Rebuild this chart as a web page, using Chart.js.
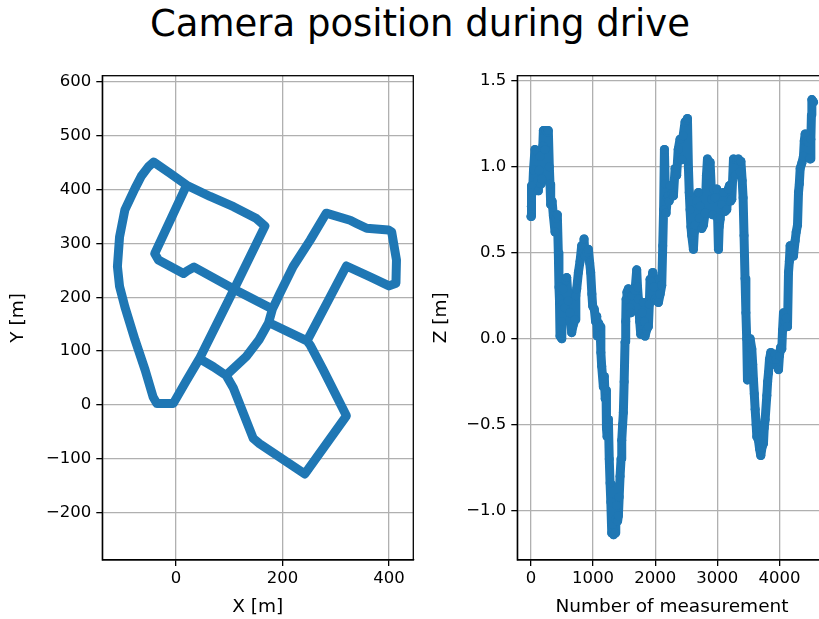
<!DOCTYPE html>
<html>
<head>
<meta charset="utf-8">
<script src="https://cdn.jsdelivr.net/npm/chart.js@4"></script>
<style>
  html, body { margin: 0; padding: 0; background: #fff; width: 819px; height: 619px; overflow: hidden; }
  #title {
    position: absolute; left: 0; top: 5px; width: 840px; text-align: center;
    font-family: "DejaVu Sans"; font-size: 37px; line-height: 37px; color: #000;
  }
  #xyChart { position: absolute; left: 0; top: 0; }
  #zChart { position: absolute; left: 430px; top: 0; }
</style>
</head>
<body>
<div id="title">Camera position during drive</div>
<canvas id="xyChart" width="430" height="619"></canvas>
<canvas id="zChart" width="410" height="619"></canvas>
<script>
// camera track seen from above, waypoints in metres
const pathX = [20, -11, -42, -52, -65, -77, -96, -106, -110, -106, -96, -77, -58, -43, -36, -5, 20, 44,
  70, 94, 70, 44, 109, 167, 151, 108, 64, 20, -40, -33, 14, 21, 34, 109, 181, 174, 181,
  195, 220, 252, 282, 327, 339, 358, 399, 405, 414, 413, 400, 364, 320, 246, 252, 276, 320,
  242, 157, 145, 108, 94, 132, 156, 174, 246];
const pathY = [408, 430, 451, 442, 425, 402, 362, 312, 257, 220, 182, 121, 65, 15, 3, 3, 46, 86,
  71, 55, 71, 86, 215, 332, 346, 368, 387, 408, 281, 269, 244, 249, 256, 215, 178, 153, 178,
  207, 257, 306, 356, 343, 337, 328, 325, 321, 269, 226, 221, 238, 258, 119, 111, 66, -20,
  -128, -72, -62, 31, 55, 90, 121, 153, 119];

// camera height against measurement number
const zIndex = [0, 5, 11, 25, 40, 64, 91, 105, 118, 132, 145, 160, 172, 190, 199, 225, 240, 265, 279, 295,
  306, 317, 340, 360, 387, 405, 424, 440, 450, 458, 467, 485, 495, 505, 521, 545, 560, 575, 600, 628,
  655, 680, 709, 722, 736, 763, 790, 816, 840, 854, 870, 897, 924, 945, 961, 980, 993, 1020, 1040, 1058,
  1069, 1090, 1112, 1125, 1138, 1165, 1180, 1195, 1208, 1215, 1225, 1246, 1260, 1273, 1285, 1300, 1315, 1330, 1353, 1365,
  1380, 1395, 1407, 1420, 1434, 1450, 1461, 1475, 1487, 1500, 1514, 1525, 1531, 1545, 1568, 1590, 1606, 1625, 1649, 1675,
  1702, 1715, 1729, 1750, 1767, 1790, 1810, 1825, 1836, 1860, 1890, 1905, 1917, 1940, 1960, 1980, 1998, 2025, 2051, 2080,
  2105, 2121, 2135, 2148, 2160, 2175, 2195, 2212, 2225, 2239, 2265, 2293, 2320, 2345, 2370, 2400, 2427, 2450, 2481, 2505,
  2519, 2535, 2548, 2561, 2575, 2588, 2615, 2630, 2642, 2670, 2696, 2710, 2723, 2750, 2776, 2803, 2825, 2841, 2865, 2884,
  2910, 2925, 2937, 2960, 2991, 3005, 3018, 3030, 3045, 3070, 3098, 3125, 3152, 3177, 3195, 3215, 3233, 3260, 3290, 3310,
  3340, 3367, 3380, 3400, 3415, 3430, 3446, 3460, 3473, 3485, 3500, 3515, 3528, 3555, 3570, 3582, 3595, 3609, 3625, 3636,
  3662, 3680, 3700, 3720, 3743, 3755, 3770, 3797, 3810, 3823, 3840, 3861, 3880, 3904, 3931, 3950, 3985, 4000, 4020, 4038,
  4050, 4065, 4090, 4110, 4130, 4146, 4160, 4172, 4200, 4226, 4253, 4270, 4291, 4307, 4320, 4334, 4360, 4387, 4400, 4414,
  4440, 4468, 4480, 4495, 4506, 4515, 4522, 4540, 4549];
const zValue = [0.71, 0.77, 0.89, 0.85, 0.98, 1.10, 1.09, 0.92, 0.86, 0.98, 1.06, 0.90, 0.93, 1.12, 1.21, 1.10, 1.21, 1.20, 1.21, 1.00,
  0.90, 0.78, 0.80, 0.715, 0.62, 0.70, 0.72, 0.50, 0.30, 0.23, 0.015, 0.10, 0.0, 0.20, 0.29, 0.18, 0.34, 0.355, 0.22, 0.15,
  0.035, 0.08, 0.11, 0.25, 0.29, 0.385, 0.45, 0.54, 0.50, 0.58, 0.48, 0.50, 0.52, 0.44, 0.385, 0.26, 0.19, 0.17, 0.10, 0.13,
  0.015, 0.09, 0.07, -0.08, -0.16, -0.28, -0.22, -0.35, -0.30, -0.52, -0.57, -0.47, -0.70, -0.84, -0.95, -1.13, -1.08, -1.14, -1.13, -1.05,
  -0.97, -1.06, -1.03, -0.92, -0.80, -0.70, -0.59, -0.50, -0.43, -0.25, -0.02, 0.10, 0.23, 0.27, 0.29, 0.18, 0.15, 0.25, 0.29, 0.28,
  0.40, 0.30, 0.23, 0.10, 0.025, 0.15, 0.21, 0.10, 0.015, 0.05, 0.07, 0.20, 0.345, 0.33, 0.385, 0.30, 0.23, 0.22, 0.21, 0.26,
  0.31, 0.54, 0.75, 1.10, 0.90, 0.73, 0.82, 0.83, 0.80, 0.89, 0.84, 0.83, 0.99, 0.95, 1.10, 1.16, 1.04, 1.18, 1.26, 1.27,
  1.28, 0.99, 0.85, 0.75, 0.65, 0.60, 0.52, 0.62, 0.66, 0.80, 0.85, 0.70, 0.77, 0.64, 0.66, 0.73, 0.95, 1.045, 1.00, 1.025,
  0.81, 0.72, 0.87, 0.82, 0.87, 0.70, 0.52, 0.65, 0.695, 0.78, 0.85, 0.74, 0.75, 0.87, 0.89, 0.80, 0.81, 1.045, 0.95, 1.04,
  1.045, 0.97, 1.03, 0.92, 0.82, 0.60, 0.35, 0.15, 0.0, -0.24, -0.23, -0.05, 0.0, -0.06, -0.15, -0.24, -0.32, -0.41, -0.50, -0.57,
  -0.59, -0.64, -0.68, -0.63, -0.61, -0.52, -0.47, -0.33, -0.25, -0.20, -0.12, -0.08, -0.15, -0.12, -0.09, -0.12, -0.18, -0.10, -0.05, -0.06,
  0.05, 0.15, 0.10, 0.12, 0.07, 0.385, 0.45, 0.54, 0.52, 0.48, 0.57, 0.62, 0.66, 0.85, 0.90, 0.99, 1.02, 1.06, 1.15, 1.19,
  1.15, 1.14, 1.05, 1.045, 1.16, 1.30, 1.39, 1.38, 1.375];

// tick labels
const xTicks = [0, 200, 400];
const yTicks = [-200, -100, 0, 100, 200, 300, 400, 500, 600];
const nTicks = [0, 1000, 2000, 3000, 4000];
const zTicks = [-1.0, -0.5, 0.0, 0.5, 1.0, 1.5];

const BLUE = '#1f77b4';
Chart.defaults.font.family = 'DejaVu Sans';
Chart.defaults.color = '#000';

const minus = s => s.replace('-', '\u2212');

// matplotlib style box round the plot area
const frame = {
  id: 'frame',
  afterDraw(chart) {
    const { ctx, chartArea: a } = chart;
    ctx.save();
    ctx.strokeStyle = '#000';
    ctx.lineWidth = 1.3;
    ctx.strokeRect(a.left, a.top, a.right - a.left, a.bottom - a.top);
    ctx.restore();
  }
};

function axis(opts) {
  return {
    type: 'linear',
    position: opts.position,
    min: opts.min,
    max: opts.max,
    z: 1,
    afterBuildTicks: s => { s.ticks = opts.ticks.map(v => ({ value: v })); },
    afterFit: opts.fit,
    grid: { color: '#b0b0b0', lineWidth: 1.3, tickColor: '#000', tickLength: 6, tickWidth: 1.3 },
    border: { display: true, color: '#000', width: 1.3 },
    ticks: {
      autoSkip: false, maxRotation: 0, padding: opts.pad,
      font: { size: 16.5 },
      callback: opts.fmt
    },
    title: {
      display: true, text: opts.title,
      font: { size: 18.5, lineHeight: 1.2 },
      padding: opts.titlePad
    }
  };
}

new Chart(document.getElementById('xyChart').getContext('2d'), {
  type: 'scatter',
  data: {
    datasets: [{
      data: pathX.map((x, i) => ({ x: x, y: pathY[i] })),
      showLine: true,
      borderColor: BLUE,
      backgroundColor: BLUE,
      borderWidth: 9,
      borderJoinStyle: 'round',
      borderCapStyle: 'round',
      pointRadius: 0,
      tension: 0
    }]
  },
  options: {
    responsive: false,
    animation: false,
    events: [],
    layout: { autoPadding: false, padding: { top: 75.7, right: 16.7, left: 0, bottom: 0 } },
    plugins: { legend: { display: false }, tooltip: { enabled: false } },
    scales: {
      x: axis({ position: 'bottom', min: -138.4, max: 445.6, ticks: xTicks, pad: 3,
        fit: s => { s.height = 59; }, fmt: v => minus(String(v)),
        title: 'X [m]', titlePad: { top: 0, bottom: 1 } }),
      y: axis({ position: 'left', min: -287.7, max: 611.2, ticks: yTicks, pad: 5,
        fit: s => { s.width = 102.3; }, fmt: v => minus(String(v)),
        title: 'Y [m]', titlePad: { top: 7, bottom: 0 } })
    }
  },
  plugins: [frame]
});

new Chart(document.getElementById('zChart').getContext('2d'), {
  type: 'scatter',
  data: {
    datasets: [{
      data: zIndex.map((n, i) => ({ x: n, y: zValue[i] })),
      showLine: true,
      borderColor: BLUE,
      backgroundColor: BLUE,
      borderWidth: 9,
      borderJoinStyle: 'round',
      borderCapStyle: 'round',
      pointRadius: 4.5,
      pointBorderWidth: 0,
      tension: 0
    }]
  },
  options: {
    responsive: false,
    animation: false,
    events: [],
    layout: { autoPadding: false, padding: { top: 75.7, right: 13.3, left: 0, bottom: 0 } },
    plugins: { legend: { display: false }, tooltip: { enabled: false } },
    scales: {
      x: axis({ position: 'bottom', min: -220.6, max: 4761, ticks: nTicks, pad: 3,
        fit: s => { s.height = 59; }, fmt: v => String(v),
        title: 'Number of measurement', titlePad: { top: 0, bottom: 1 } }),
      y: axis({ position: 'left', min: -1.287, max: 1.529, ticks: zTicks, pad: 5,
        fit: s => { s.width = 87.3; }, fmt: v => minus(v.toFixed(1)),
        title: 'Z [m]', titlePad: { top: 0, bottom: 0 } })
    }
  },
  plugins: [frame]
});
</script>
</body>
</html>
